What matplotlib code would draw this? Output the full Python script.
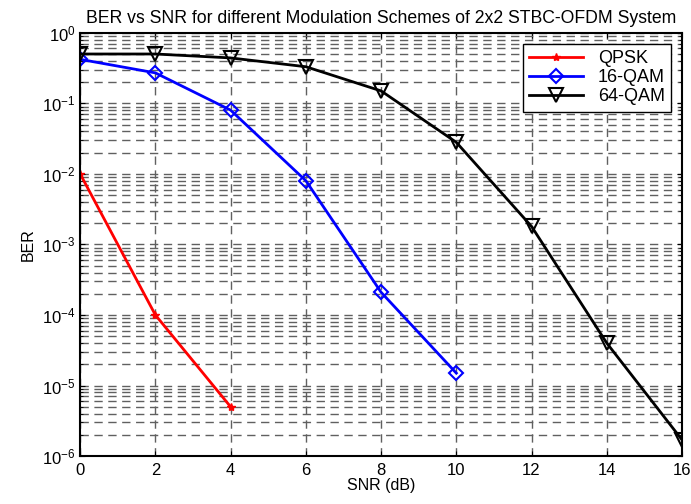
import numpy as np
import matplotlib
matplotlib.use('Agg')
import matplotlib.pyplot as plt

plt.rcParams['font.family'] = ['Liberation Sans', 'DejaVu Sans']

# data
snr_qpsk = [0, 2, 4]
ber_qpsk = [1e-2, 1e-4, 5e-6]

snr_16 = [0, 2, 4, 6, 8, 10]
ber_16 = [0.42, 0.27, 0.08, 0.008, 2.1e-4, 1.5e-5]

snr_64 = [0, 2, 4, 6, 8, 10, 12, 14, 16]
ber_64 = [0.5, 0.5, 0.44, 0.33, 0.15, 0.028, 1.8e-3, 4e-5, 1.7e-6]

fig = plt.figure(figsize=(6.91, 5.04), dpi=100)
ax = fig.add_axes([0.116, 0.095, 0.871, 0.84])

ax.semilogy(snr_qpsk, ber_qpsk, color='red', lw=2, marker='*', ms=6, label='QPSK')
ax.semilogy(snr_16, ber_16, color='blue', lw=2, marker='D', ms=7, mfc='none', mew=1.5, label='16-QAM')
ax.semilogy(snr_64, ber_64, color='black', lw=2, marker='v', ms=9.5, mfc='none', mew=1.5, label='64-QAM')

ax.set_xlim(0, 16)
ax.set_ylim(1e-6, 1)
ax.set_xticks(range(0, 17, 2))
ax.grid(True, which='major', ls=(0, (6, 4)), color='#606060', lw=1)
ax.grid(True, which='minor', axis='y', ls=(0, (6, 4)), color='#606060', lw=1)
ax.tick_params(which='both', direction='in', top=True, right=True, labelsize=12)
ax.tick_params(axis='x', pad=5)
for s in ax.spines.values():
    s.set_linewidth(1.5)

ax.set_xlabel('SNR (dB)', fontsize=11.5, labelpad=0)
ax.set_ylabel('BER', fontsize=11.5)
ax.set_title('BER vs SNR for different Modulation Schemes of 2x2 STBC-OFDM System',
             fontsize=12.7, pad=7)

leg = ax.legend(loc='upper right', fontsize=13, fancybox=False, edgecolor='black',
                framealpha=1, handlelength=3, borderaxespad=0.6, labelspacing=0.12,
                borderpad=0.35)
leg.get_frame().set_linewidth(1)

plt.savefig('out.png', dpi=100)
